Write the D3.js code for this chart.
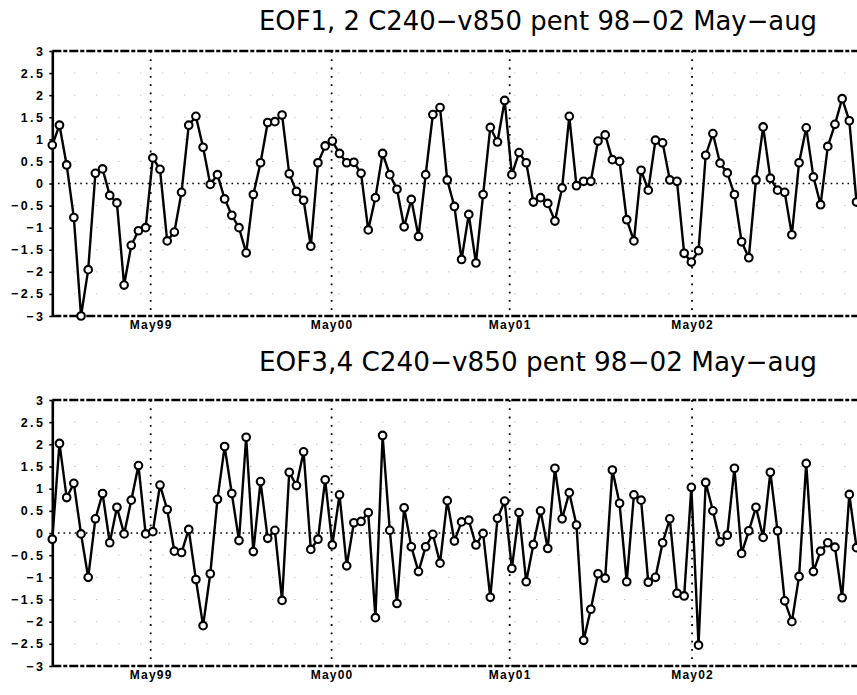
<!DOCTYPE html>
<html>
<head>
<meta charset="utf-8">
<script src="https://cdn.jsdelivr.net/npm/d3@7"></script>
<style>
  body { margin: 0; background: #fff; }
  svg { display: block; }
</style>
</head>
<body>
<svg id="chart" width="857" height="695"></svg>
<script>
(function(){
    // pentad series, May-Aug 1998-2002
    let eof12 = [
        0.87, 1.32, 0.42, -0.77, -3.0, -1.95, 0.23, 0.33, -0.27, -0.44,
        -2.3, -1.4, -1.07, -1.0, 0.58, 0.32, -1.3, -1.1, -0.2, 1.32,
        1.52, 0.82, -0.02, 0.2, -0.35, -0.72, -1.0, -1.57, -0.25, 0.47,
        1.38, 1.4, 1.55, 0.22, -0.18, -0.38, -1.42, 0.47, 0.85, 0.96,
        0.68, 0.47, 0.48, 0.23, -1.05, -0.32, 0.68, 0.2, -0.13, -0.98,
        -0.36, -1.2, 0.2, 1.56, 1.72, 0.08, -0.52, -1.72, -0.7, -1.8,
        -0.25, 1.27, 0.94, 1.88, 0.2, 0.7, 0.47, -0.42, -0.32, -0.45,
        -0.85, -0.1, 1.52, -0.05, 0.05, 0.05, 0.96, 1.1, 0.54, 0.5,
        -0.82, -1.3, 0.3, -0.15, 0.98, 0.92, 0.08, 0.05, -1.58, -1.78,
        -1.52, 0.64, 1.13, 0.46, 0.24, -0.25, -1.32, -1.68, 0.08, 1.28,
        0.12, -0.15, -0.2, -1.16, 0.47, 1.26, 0.15, -0.48, 0.84, 1.34,
        1.92, 1.42, -0.42
    ]
    let eof34 = [
        -0.14, 2.02, 0.8, 1.12, -0.02, -1.0, 0.32, 0.89, -0.22, 0.58,
        -0.02, 0.74, 1.52, -0.02, 0.03, 1.08, 0.53, -0.41, -0.44, 0.08,
        -1.05, -2.09, -0.92, 0.76, 1.95, 0.89, -0.17, 2.16, -0.42, 1.16,
        -0.12, 0.06, -1.52, 1.37, 1.07, 1.83, -0.37, -0.14, 1.2, -0.27,
        0.86, -0.74, 0.23, 0.26, 0.46, -1.91, 2.2, 0.06, -1.59, 0.57,
        -0.31, -0.87, -0.31, -0.03, -0.68, 0.73, -0.18, 0.25, 0.29, -0.27,
        -0.01, -1.45, 0.33, 0.72, -0.8, 0.46, -1.1, -0.26, 0.5, -0.35,
        1.46, 0.32, 0.91, 0.18, -2.42, -1.72, -0.92, -1.02, 1.42, 0.67,
        -1.1, 0.86, 0.74, -1.11, -1.0, -0.22, 0.32, -1.36, -1.42, 1.03,
        -2.53, 1.14, 0.5, -0.2, -0.05, 1.46, -0.46, 0.05, 0.58, -0.1,
        1.37, 0.05, -1.53, -2.0, -0.98, 1.57, -0.87, -0.41, -0.22, -0.32,
        -1.46, 0.87, -0.33
    ]
    let titles = ["EOF1, 2 C240\u2212v850 pent 98\u221202 May\u2212aug",
                  "EOF3,4 C240\u2212v850 pent 98\u221202 May\u2212aug"]
    let yearTicks = [13.7, 38.9, 63.7, 89.1]   // position in pentad index
    let yearLabels = ["May99", "May00", "May01", "May02"]
    let yTicks = [-3, -2.5, -2, -1.5, -1, -0.5, 0, 0.5, 1, 1.5, 2, 2.5, 3]

    let svg = d3.select("svg#chart")

    let xScale = d3.scaleLinear()
        .domain([0, eof12.length - 1])
        .range([52.3, 856.5])

    let panels = [
        {data: eof12, title: titles[0], top: 51, bottom: 316, titleY: 30},
        {data: eof34, title: titles[1], top: 400, bottom: 666, titleY: 371}
    ]

    let fmt = (d) => (d < 0 ? "\u2212" : "") + Math.abs(d)

    panels.forEach(function(p){
        let yScale = d3.scaleLinear()
            .domain([-3, 3])
            .range([p.bottom, p.top])

        let g = svg.append("g")

        svg.append("text")
            .attr("x", 259)
            .attr("y", p.titleY)
            .attr("text-anchor", "start")
            .attr("font-family", "DejaVu Sans")
            .attr("font-size", "27px")
            .attr("fill", "#000")
            .attr("textLength", 558)
            .attr("lengthAdjust", "spacingAndGlyphs")
            .text(p.title)

        // faint grid dots
        g.selectAll(".gridy")
            .data(yTicks.filter((d) => d != 0 && Math.abs(d) != 3))
            .enter()
            .append("line")
                .attr("x1", xScale.range()[0])
                .attr("x2", 900)
                .attr("y1", (d) => yScale(d))
                .attr("y2", (d) => yScale(d))
                .attr("stroke", "#aaa")
                .attr("stroke-width", 1)
                .attr("stroke-dasharray", "1,21")

        // zero line
        g.append("line")
            .attr("x1", xScale.range()[0])
            .attr("x2", 900)
            .attr("y1", yScale(0))
            .attr("y2", yScale(0))
            .attr("stroke", "#000")
            .attr("stroke-width", 1.6)
            .attr("stroke-dasharray", "1.6,4")

        // year lines
        g.selectAll(".yr")
            .data(yearTicks)
            .enter()
            .append("line")
                .attr("x1", (d) => xScale(d))
                .attr("x2", (d) => xScale(d))
                .attr("y1", p.top)
                .attr("y2", p.bottom)
                .attr("stroke", "#000")
                .attr("stroke-width", 1.8)
                .attr("stroke-dasharray", "1.8,6.5")

        // top and bottom frame
        ;[p.top, p.bottom].forEach(function(yy){
            g.append("line")
                .attr("x1", xScale.range()[0])
                .attr("x2", 900)
                .attr("y1", yy)
                .attr("y2", yy)
                .attr("stroke", "#000")
                .attr("stroke-width", 2.6)
                .attr("stroke-dasharray", "9,2,4,2")
        })

        // y axis
        let yAxis = g.append("g")
            .attr("transform", "translate(" + xScale.range()[0] + ",0)")
            .call(d3.axisLeft(yScale).tickValues(yTicks).tickSizeInner(3).tickSizeOuter(0)
                .tickPadding(4).tickFormat(fmt))
        yAxis.select(".domain")
            .attr("stroke-width", 2.6)
        yAxis.selectAll(".tick line")
            .attr("stroke-width", 1.6)
        yAxis.selectAll("text")
            .style("font-family", "'Liberation Sans', Arial, sans-serif")
            .style("font-weight", "bold")
            .style("font-size", "12.5px")
            .style("letter-spacing", "2.4px")

        // x axis labels
        let xAxis = g.append("g")
            .attr("transform", "translate(0," + p.bottom + ")")
            .call(d3.axisBottom(xScale).tickValues(yearTicks).tickSize(0).tickPadding(4)
                .tickFormat((d, i) => yearLabels[i]))
        xAxis.select(".domain").remove()
        xAxis.selectAll("text")
            .style("font-family", "'Liberation Sans', Arial, sans-serif")
            .style("font-weight", "bold")
            .style("font-size", "12px")
            .style("letter-spacing", "1.2px")

        // series
        let line = d3.line()
            .x((d, i) => xScale(i))
            .y((d) => yScale(d))

        g.append("path")
            .datum(p.data)
            .attr("d", line)
            .attr("fill", "none")
            .attr("stroke", "#000")
            .attr("stroke-width", 2.4)

        g.selectAll("circle")
            .data(p.data)
            .enter()
            .append("circle")
                .attr("cx", (d, i) => xScale(i))
                .attr("cy", (d) => yScale(d))
                .attr("r", 3.8)
                .attr("fill", "#fff")
                .attr("stroke", "#000")
                .attr("stroke-width", 2.1)
    })
})()
</script>
</body>
</html>
